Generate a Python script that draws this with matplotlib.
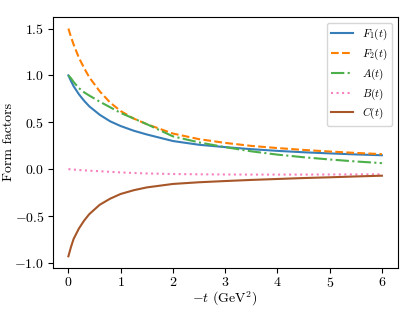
import matplotlib
matplotlib.use('Agg')
import matplotlib.pyplot as plt

plt.rcParams['font.family'] = 'serif'
plt.rcParams['font.serif'] = ['cmr10']
plt.rcParams['mathtext.fontset'] = 'cm'
plt.rcParams['axes.formatter.use_mathtext'] = True
plt.rcParams['axes.unicode_minus'] = True

# -t values (GeV^2) and form factors
t = [0, 0.05, 0.1, 0.2, 0.3, 0.4, 0.6, 0.8, 1.0, 1.25, 1.5, 2.0, 2.5, 3.0, 3.5, 4.0, 4.5, 5.0, 5.5, 6.0]
F1 = [1.0, 0.94, 0.885, 0.80, 0.73, 0.67, 0.58, 0.51, 0.46, 0.41, 0.37, 0.30, 0.26, 0.235,
      0.213, 0.195, 0.18, 0.168, 0.157, 0.148]
F2 = [1.5, 1.41, 1.33, 1.19, 1.08, 0.98, 0.83, 0.71, 0.62, 0.54, 0.48, 0.38, 0.32, 0.28,
      0.248, 0.225, 0.205, 0.188, 0.173, 0.16]
A = [1.0, 0.97, 0.93, 0.865, 0.82, 0.785, 0.72, 0.66, 0.60, 0.54, 0.48, 0.35, 0.285, 0.235,
     0.19, 0.155, 0.127, 0.103, 0.082, 0.064]
B = [0.0, -0.002, -0.005, -0.009, -0.013, -0.016, -0.022, -0.029, -0.035, -0.041, -0.046,
     -0.052, -0.055, -0.057, -0.058, -0.058, -0.058, -0.057, -0.056, -0.055]
C = [-0.93, -0.83, -0.745, -0.635, -0.55, -0.48, -0.38, -0.315, -0.265, -0.225, -0.195,
     -0.158, -0.14, -0.127, -0.115, -0.105, -0.095, -0.087, -0.078, -0.07]

fig = plt.figure(figsize=(4.15, 3.12), dpi=100)
ax = fig.add_axes([0.127, 0.142, 0.831, 0.803])

ax.plot(t, F1, color='#377eb8', linestyle='-', lw=1.5, label=r'$F_1(t)$')
ax.plot(t, F2, color='#ff7f00', linestyle='--', lw=1.5, label=r'$F_2(t)$')
ax.plot(t, A, color='#4daf4a', linestyle='-.', lw=1.5, label=r'$A(t)$')
ax.plot(t, B, color='#f781bf', linestyle=':', lw=1.5, label=r'$B(t)$')
ax.plot(t, C, color='#a65628', linestyle='-', lw=1.5, label=r'$C(t)$')

ax.set_xticks([0, 1, 2, 3, 4, 5, 6])
ax.set_yticks([-1.0, -0.5, 0.0, 0.5, 1.0, 1.5])
ax.tick_params(labelsize=10, length=3.5, pad=2.5)
ax.set_xlabel(r'$-t$ (GeV$^2$)', fontsize=10)
ax.set_ylabel('Form factors', fontsize=10)
ax.xaxis.set_label_coords(0.5, -0.088)
ax.yaxis.set_label_coords(-0.108, 0.5)
ax.legend(loc='upper right', fontsize=8, labelspacing=0.4)

fig.savefig('out.png', dpi=100)
